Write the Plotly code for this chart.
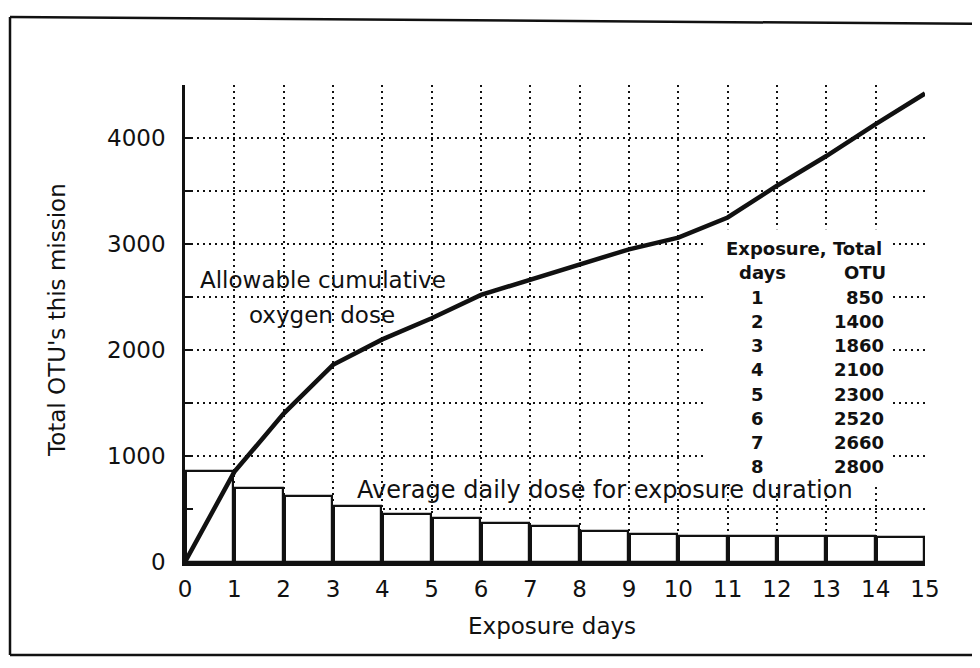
import plotly.graph_objects as go

# ---- data ----
days = list(range(0, 16))
total_otu = [0, 850, 1400, 1860, 2100, 2300, 2520, 2660, 2800, 2950, 3060, 3250, 3550, 3830, 4130, 4420]
bar_days = [d + 0.5 for d in range(0, 15)]
avg_daily = [860, 700, 620, 525, 455, 415, 365, 335, 295, 265, 250, 245, 245, 245, 240]

x_ticks = list(range(0, 16))
y_tickvals = [0, 500, 1000, 1500, 2000, 2500, 3000, 3500, 4000, 4500]
y_ticktext = ["0", "", "1000", "", "2000", "", "3000", "", "4000", ""]

table_days = ["1", "2", "3", "4", "5", "6", "7", "8"]
table_otu = ["850", "1400", "1860", "2100", "2300", "2520", "2660", "2800"]

FONT = "DejaVu Sans"
INK = "#111111"

# screen geometry of the plot area (page has an 8px body margin)
L, R, T, B = 185, 925, 85, 562
OFF = 8
def px(x):
    return (x - L) / (R - L)
def py(y):
    return (B - y) / (B - T)

fig = go.Figure()
fig.add_trace(go.Bar(
    x=bar_days, y=avg_daily, width=0.96,
    marker=dict(color="white", line=dict(color=INK, width=2.2)),
    showlegend=False, hoverinfo="skip",
))
fig.add_trace(go.Scatter(
    x=days, y=total_otu, mode="lines",
    line=dict(color=INK, width=4.5),
    showlegend=False, hoverinfo="skip",
))

TXT = dict(family=FONT, size=23, color=INK)
fig.add_annotation(x=0.26, y=2660, text="Allowable cumulative", showarrow=False,
                   xanchor="left", yanchor="middle", font=TXT)
fig.add_annotation(x=1.26, y=2330, text="oxygen dose", showarrow=False,
                   xanchor="left", yanchor="middle", font=TXT)
fig.add_annotation(x=3.45, y=679, text="Average daily dose for exposure duration", showarrow=False,
                   xanchor="left", yanchor="middle", font=dict(family=FONT, size=24, color=INK))

# axis titles as annotations
fig.add_annotation(xref="paper", yref="paper", x=px(57), y=py(320), text="Total OTU's this mission",
                   textangle=-90, showarrow=False, xanchor="center", yanchor="middle", font=TXT)
fig.add_annotation(xref="paper", yref="paper", x=px(552), y=py(626), text="Exposure days",
                   showarrow=False, xanchor="center", yanchor="middle", font=TXT)

# table with white background hiding the grid
fig.add_shape(type="rect", xref="x", yref="y", x0=10.57, x1=14.33, y0=720, y1=3140,
              fillcolor="white", line=dict(width=0), layer="between")
TF = dict(family=FONT, size=18, color=INK)
fig.add_annotation(x=12.55, y=2960, text="<b>Exposure, Total</b>", showarrow=False,
                   xanchor="center", yanchor="middle", font=TF)
fig.add_annotation(x=11.7, y=2730, text="<b>days</b>", showarrow=False,
                   xanchor="center", yanchor="middle", font=TF)
fig.add_annotation(x=13.78, y=2730, text="<b>OTU</b>", showarrow=False,
                   xanchor="center", yanchor="middle", font=TF)
for i, (d, o) in enumerate(zip(table_days, table_otu)):
    yy = 2500 - i * 229
    fig.add_annotation(x=11.6, y=yy, text="<b>" + d + "</b>", showarrow=False,
                       xanchor="center", yanchor="middle", font=TF)
    fig.add_annotation(x=14.2, y=yy, text="<b>" + o + "</b>", showarrow=False,
                       xanchor="right", yanchor="middle", font=TF)

# outer frame
frame = dict(color=INK, width=2.5)
fig.add_shape(type="line", xref="paper", yref="paper", x0=px(10), y0=py(17), x1=px(990), y1=py(24), line=frame)
fig.add_shape(type="line", xref="paper", yref="paper", x0=px(10), y0=py(17), x1=px(10), y1=py(655), line=frame)
fig.add_shape(type="line", xref="paper", yref="paper", x0=px(10), y0=py(655), x1=px(990), y1=py(655), line=frame)

fig.update_layout(
    width=980, height=668,
    margin=dict(l=L - OFF, r=980 - R + OFF, t=T - OFF, b=668 - B + OFF, autoexpand=False),
    plot_bgcolor="white", paper_bgcolor="white",
    bargap=0,
    font=dict(family=FONT, color=INK),
)
fig.update_xaxes(
    range=[0, 15], tickvals=x_ticks, ticktext=[str(v) for v in x_ticks],
    showgrid=True, gridcolor=INK, gridwidth=1.5, griddash="2px,4px",
    showline=True, linecolor=INK, linewidth=3.5,
    ticks="", tickfont=dict(family=FONT, size=23, color=INK), ticklabelstandoff=4,
    zeroline=False,
)
fig.update_yaxes(
    range=[0, 4500], tickvals=y_tickvals, ticktext=y_ticktext,
    showgrid=True, gridcolor=INK, gridwidth=1.5, griddash="2px,4px",
    showline=True, linecolor=INK, linewidth=2.5,
    ticks="inside", ticklen=8, tickwidth=2, tickcolor=INK,
    tickfont=dict(family=FONT, size=23, color=INK), ticklabelstandoff=12,
    zeroline=False,
)

fig.write_html("out.html")
